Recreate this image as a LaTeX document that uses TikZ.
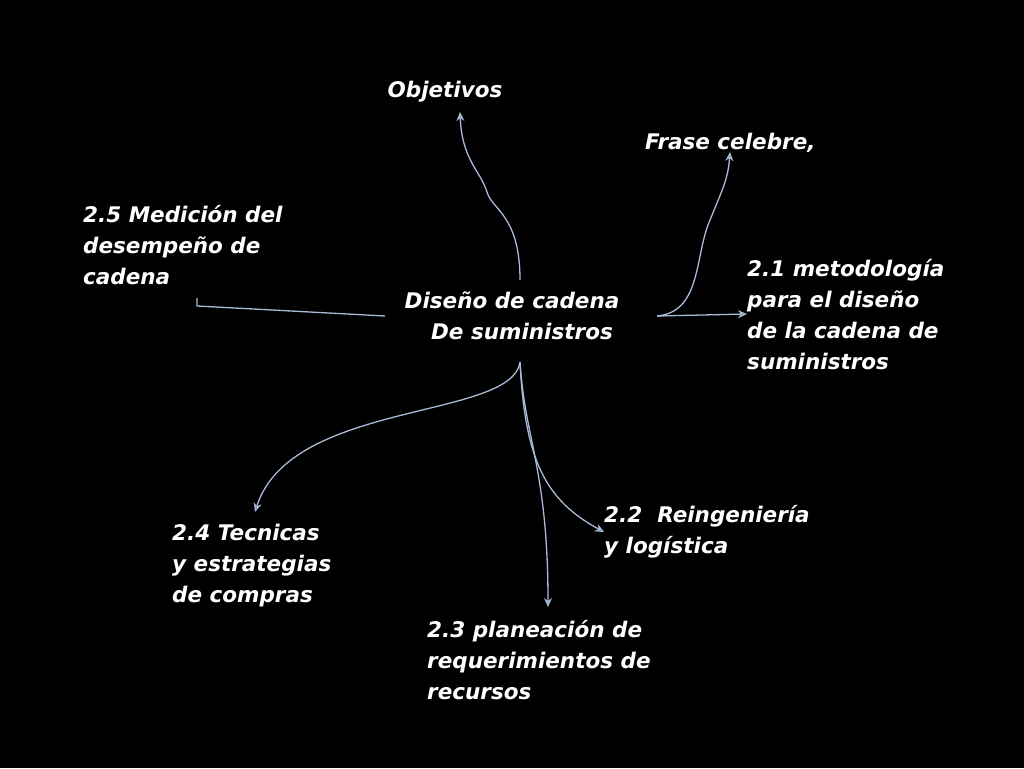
\documentclass[tikz,border=0pt]{standalone}
\usepackage{fontspec}
\setmainfont{DejaVu Sans}
\usetikzlibrary{arrows.meta,positioning}
\definecolor{linkcol}{HTML}{A8BBD6}
\begin{document}
\begin{tikzpicture}[
		x=1pt, y=-1pt,
		>={Stealth[open,length=9pt,width=8pt]},
		lbl/.style={
			text=white,
			font=\fontsize{21.5}{31}\selectfont\bfseries\itshape,
			align=left,
			inner sep=0pt
		},
		link/.style={
			draw=linkcol,
			line width=1.3pt
		}
		]
		\fill[black] (0,0) rectangle (1024,768);
		\useasboundingbox (0,0) rectangle (1024,768);
		
		% centre and branch labels
		\node[lbl, align=center] (core) at (512,316) {Diseño de cadena\\\hspace*{20pt}De suministros};
		\node[lbl] (obj) at (445,92) {Objetivos};
		\node[lbl, anchor=west] (frase) at (645,143) {Frase celebre,};
		\node[lbl, anchor=west] (med) at (83,245) {2.5 Medición del\\desempeño de\\cadena};
		\node[lbl, anchor=west] (met) at (747,315) {2.1 metodología\\para el diseño\\de la cadena de\\suministros};
		\node[lbl, anchor=west] (reing) at (604,532) {2.2\ \ Reingeniería\\y logística};
		\node[lbl, anchor=west] (tec) at (172,566) {2.4 Tecnicas\\y estrategias\\de compras};
		\node[lbl, anchor=west] (plan) at (427,660) {2.3 planeación de\\requerimientos de\\recursos};
		
		% connector ends
		\coordinate (top) at (520,280);
		\coordinate (bot) at (520,362);
		\coordinate (rgt) at (657,316);
		\coordinate (lft) at (385,316);
		\coordinate (tick) at (197,306);
		
		% branches
		\draw[link, ->] (top) .. controls (520,215) and (492,210) .. (487,192)
			.. controls (480,170) and (462,160) .. (460,112);
		\draw[link, ->] (rgt) .. controls (700,312) and (695,260) .. (708,225)
			.. controls (722,190) and (728,180) .. (730,152);
		\draw[link, ->] (rgt) -- (met.west |- 0,314);
		\draw[link] (lft) -- (tick) -- ++(0,-8);
		\draw[link, ->] (bot) .. controls (512,420) and (290,400) .. (255,512);
		\draw[link, ->] (bot) .. controls (525,460) and (545,500) .. (reing.west |- 0,532);
		\draw[link, ->] (bot) .. controls (525,440) and (548,470) .. (548,607);
		
		\end{tikzpicture}
\end{document}
